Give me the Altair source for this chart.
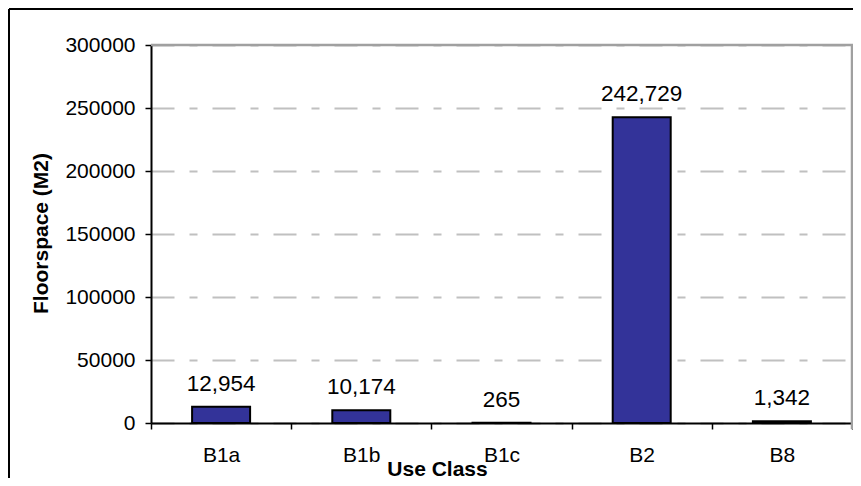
import altair as alt
import pandas as pd

categories = ["B1a", "B1b", "B1c", "B2", "B8"]
values = [12954, 10174, 265, 242729, 1342]
y_ticks = [0, 50000, 100000, 150000, 200000, 250000, 300000]

df = pd.DataFrame({"cls": categories, "val": values})

FONT = "Liberation Sans"
W, H = 701, 378

base = alt.Chart(df)

x_enc = alt.X(
    "cls:N",
    sort=categories,
    scale=alt.Scale(paddingInner=0, paddingOuter=0),
    axis=alt.Axis(
        title="Use Class",
        labelAngle=0,
        tickBand="extent",
        tickSize=6,
        tickColor="#000000",
        tickWidth=1.5,
        domainColor="#000000",
        domainWidth=2,
        labelFont=FONT,
        labelFontSize=21,
        labelColor="#000000",
        labelPadding=15,
        labelBaseline="top",
        titleFont=FONT,
        titleFontSize=21,
        titleFontWeight="bold",
        titleColor="#000000",
        titleX=286,
        titleY=52,
        titleAlign="center",
        titleBaseline="alphabetic",
        grid=False,
    ),
)

y_enc = alt.Y(
    "val:Q",
    scale=alt.Scale(domain=[0, 300000], nice=False),
    axis=alt.Axis(
        title="Floorspace (M2)",
        values=y_ticks,
        format="d",
        tickSize=6,
        tickColor="#000000",
        tickWidth=1.5,
        domainColor="#000000",
        domainWidth=2,
        labelFont=FONT,
        labelFontSize=21,
        labelColor="#000000",
        labelPadding=10,
        titleFont=FONT,
        titleFontSize=21,
        titleFontWeight="bold",
        titleColor="#000000",
        titleAngle=-90,
        titleX=-103.5,
        titleY=188,
        titleAlign="center",
        titleBaseline="alphabetic",
        grid=True,
        gridColor="#c0c0c0",
        gridWidth=2,
        gridDash=[23, 15, 8, 15],
    ),
)

bars = base.mark_bar(
    size=58, color="#333399", stroke="#000000", strokeWidth=2
).encode(x=x_enc, y=y_enc)

labels = base.mark_text(
    font=FONT, fontSize=22.5, color="#000000", baseline="alphabetic", dy=-16
).encode(
    x=alt.X("cls:N", sort=categories),
    y=alt.Y("val:Q"),
    text=alt.Text("val:Q", format=","),
)

one = pd.DataFrame({"f": [0]})
frame_top = alt.Chart(one).mark_rule(color="#000000", strokeWidth=2).encode(
    x=alt.value(-142), x2=alt.value(W + 40), y=alt.value(-36)
)
frame_left = alt.Chart(one).mark_rule(color="#000000", strokeWidth=2).encode(
    x=alt.value(-142), y=alt.value(-36), y2=alt.value(H + 80)
)
plot_top = alt.Chart(one).mark_rule(color="#a0a0a0", strokeWidth=2.5).encode(
    x=alt.value(0), x2=alt.value(W + 1), y=alt.value(0)
)
plot_right = alt.Chart(one).mark_rule(color="#a0a0a0", strokeWidth=2.5).encode(
    x=alt.value(W), y=alt.value(0), y2=alt.value(H + 6)
)

chart = (
    alt.layer(frame_top, frame_left, plot_top, plot_right, bars, labels)
    .properties(
        width=W,
        height=H,
        autosize=alt.AutoSizeParams(type="none"),
        padding={"left": 143, "top": 37, "right": 1, "bottom": 55},
        background="#ffffff",
    )
    .configure_view(strokeWidth=0, stroke="transparent")
)

chart.save("out.html", embed_options={"renderer": "svg", "actions": False})
